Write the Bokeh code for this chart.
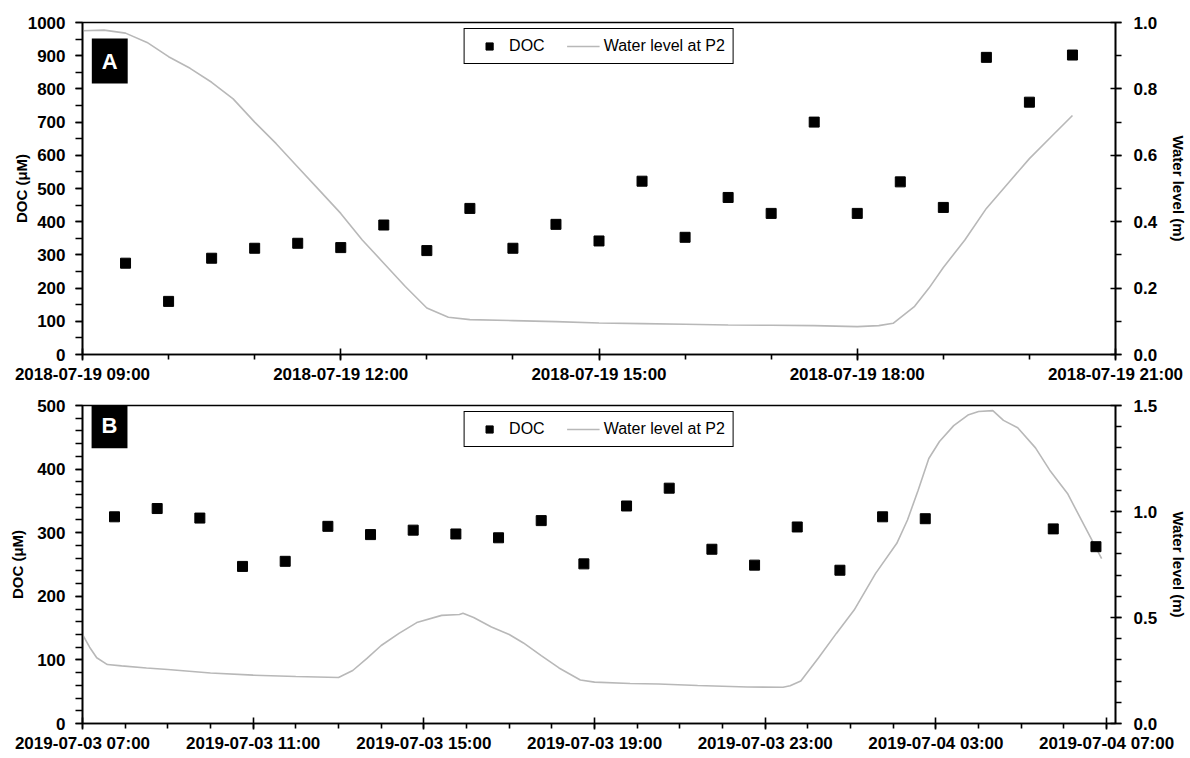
import pandas as pd
from bokeh.plotting import figure
from bokeh.models import (Range1d, LinearAxis, FixedTicker,
                          DatetimeTickFormatter, NumeralTickFormatter,
                          Legend, LegendItem, Label)
from bokeh.layouts import column
from bokeh.embed import file_html
from bokeh.resources import INLINE

# ---------------- Panel A data (2018-07-19) ----------------
doc_a_times = ["09:30", "10:00", "10:30", "11:00", "11:30", "12:00", "12:30", "13:00",
               "13:30", "14:00", "14:30", "15:00", "15:30", "16:00", "16:30", "17:00",
               "17:30", "18:00", "18:30", "19:00", "19:30", "20:00", "20:30"]
doc_a_values = [275, 160, 290, 320, 335, 322, 390, 313,
                440, 320, 392, 342, 522, 353, 473, 425,
                700, 425, 520, 443, 895, 760, 902]

wl_a_times = ["09:00", "09:15", "09:30", "09:45", "10:00", "10:15", "10:30", "10:45",
              "11:00", "11:15", "11:30", "11:45", "12:00", "12:15", "12:30", "12:45",
              "13:00", "13:15", "13:30", "14:00", "14:30", "15:00", "15:30", "16:00",
              "16:30", "17:00", "17:30", "18:00", "18:15", "18:25", "18:40", "18:50",
              "19:00", "19:15", "19:30", "19:45", "20:00", "20:15", "20:30"]
wl_a_values = [0.975, 0.977, 0.968, 0.940, 0.897, 0.862, 0.820, 0.770,
               0.700, 0.635, 0.565, 0.495, 0.425, 0.345, 0.275, 0.205,
               0.140, 0.112, 0.105, 0.102, 0.099, 0.095, 0.093, 0.091,
               0.089, 0.088, 0.087, 0.084, 0.087, 0.094, 0.145, 0.200,
               0.262, 0.345, 0.440, 0.515, 0.590, 0.655, 0.720]

# ---------------- Panel B data (2019-07-03 / 04) ----------------
doc_b_times = ["2019-07-03 07:45", "2019-07-03 08:45", "2019-07-03 09:45", "2019-07-03 10:45",
               "2019-07-03 11:45", "2019-07-03 12:45", "2019-07-03 13:45", "2019-07-03 14:45",
               "2019-07-03 15:45", "2019-07-03 16:45", "2019-07-03 17:45", "2019-07-03 18:45",
               "2019-07-03 19:45", "2019-07-03 20:45", "2019-07-03 21:45", "2019-07-03 22:45",
               "2019-07-03 23:45", "2019-07-04 00:45", "2019-07-04 01:45", "2019-07-04 02:45",
               "2019-07-04 05:45", "2019-07-04 06:45"]
doc_b_values = [325, 338, 323, 247, 255, 310, 297, 304,
                298, 292, 319, 251, 342, 370, 274, 249,
                309, 241, 325, 322, 306, 278]

wl_b_times = ["2019-07-03 07:00", "2019-07-03 07:10", "2019-07-03 07:20", "2019-07-03 07:35",
              "2019-07-03 07:55", "2019-07-03 08:30", "2019-07-03 09:00", "2019-07-03 10:00",
              "2019-07-03 11:00", "2019-07-03 12:00", "2019-07-03 13:00", "2019-07-03 13:20",
              "2019-07-03 13:40", "2019-07-03 14:00", "2019-07-03 14:25", "2019-07-03 14:50",
              "2019-07-03 15:25", "2019-07-03 15:50", "2019-07-03 15:55", "2019-07-03 16:10",
              "2019-07-03 16:35", "2019-07-03 17:00", "2019-07-03 17:20", "2019-07-03 17:45",
              "2019-07-03 18:10", "2019-07-03 18:40", "2019-07-03 19:00", "2019-07-03 19:50",
              "2019-07-03 20:30", "2019-07-03 21:25", "2019-07-03 22:35", "2019-07-03 23:25",
              "2019-07-03 23:35", "2019-07-03 23:50", "2019-07-04 00:15", "2019-07-04 00:40",
              "2019-07-04 01:05", "2019-07-04 01:35", "2019-07-04 02:05", "2019-07-04 02:20",
              "2019-07-04 02:35", "2019-07-04 02:50", "2019-07-04 03:05", "2019-07-04 03:25",
              "2019-07-04 03:45", "2019-07-04 04:00", "2019-07-04 04:20", "2019-07-04 04:35",
              "2019-07-04 04:55", "2019-07-04 05:20", "2019-07-04 05:40", "2019-07-04 06:05",
              "2019-07-04 06:30", "2019-07-04 06:53"]
wl_b_values = [0.420, 0.360, 0.310, 0.278,
               0.272, 0.262, 0.255, 0.238,
               0.228, 0.222, 0.217, 0.250,
               0.307, 0.368, 0.425, 0.476,
               0.510, 0.514, 0.520, 0.500,
               0.455, 0.420, 0.380, 0.320,
               0.262, 0.205, 0.195, 0.189,
               0.186, 0.179, 0.172, 0.171,
               0.178, 0.200, 0.310, 0.425,
               0.535, 0.707, 0.850, 0.960,
               1.100, 1.250, 1.330, 1.405,
               1.455, 1.472, 1.476, 1.430,
               1.395, 1.300, 1.195, 1.085,
               0.925, 0.778]

# axis tick values
a_left_major = [0, 100, 200, 300, 400, 500, 600, 700, 800, 900, 1000]
a_left_minor = [50 * k for k in range(21)]
a_right_major = [0.0, 0.2, 0.4, 0.6, 0.8, 1.0]
a_right_minor = [round(0.1 * k, 2) for k in range(11)]
b_left_major = [0, 100, 200, 300, 400, 500]
b_left_minor = [20 * k for k in range(26)]
b_right_major = [0.0, 0.5, 1.0, 1.5]
b_right_minor = [round(0.1 * k, 2) for k in range(16)]

legend_labels = ["DOC", "Water level at P2"]
left_label = "DOC (μM)"
right_label = "Water level (m)"

FONT = "Liberation Sans"
FMT = "%Y-%m-%d %H:%M"
LINE_COLOR = "#b8b8b8"


def ms(ts):
    return pd.Timestamp(ts).value / 1e6


def style_axis(ax, maj_in, maj_out, min_in, min_out, standoff, label_standoff):
    ax.axis_line_color = "black"
    ax.axis_line_width = 1.6
    ax.major_tick_line_color = "black"
    ax.major_tick_line_width = 1.6
    ax.minor_tick_line_color = "black"
    ax.minor_tick_line_width = 1.6
    ax.minor_tick_line_alpha = 1.0
    ax.major_tick_in = maj_in
    ax.major_tick_out = maj_out
    ax.minor_tick_in = min_in
    ax.minor_tick_out = min_out
    ax.major_label_text_font = FONT
    ax.major_label_text_font_size = "17px"
    ax.major_label_text_font_style = "bold"
    ax.major_label_text_color = "black"
    ax.major_label_standoff = standoff
    ax.axis_label_text_font = FONT
    ax.axis_label_text_font_size = "15px"
    ax.axis_label_text_font_style = "bold"
    ax.axis_label_text_color = "black"
    ax.axis_label_standoff = label_standoff


def make_panel(height, border_top, x_start, x_end, x_major, x_minor,
               y_max, y_major, y_minor, r_max, r_major, r_minor,
               doc_t, doc_v, wl_t, wl_v, tag, tag_x, tag_y, left_standoff):
    p = figure(width=1190, height=height, x_axis_type="datetime",
               x_range=Range1d(start=ms(x_start), end=ms(x_end)),
               y_range=Range1d(start=0, end=y_max),
               output_backend="svg", toolbar_location=None,
               min_border_left=82, min_border_right=68,
               min_border_top=border_top, min_border_bottom=32)
    p.xgrid.visible = False
    p.ygrid.visible = False
    p.outline_line_color = "black"
    p.outline_line_width = 1.6
    p.outline_line_alpha = 1.0
    p.background_fill_color = "white"
    p.border_fill_color = "white"

    p.extra_y_ranges = {"wl": Range1d(start=0, end=r_max)}

    ln = p.line(x=pd.to_datetime(wl_t), y=wl_v, y_range_name="wl",
                line_color=LINE_COLOR, line_width=1.6)
    sq = p.scatter(x=pd.to_datetime(doc_t), y=doc_v, marker="square", size=10,
                   fill_color="black", line_color="black")

    # x axis
    xa = p.xaxis[0]
    xa.ticker = FixedTicker(ticks=x_major, minor_ticks=x_minor)
    xa.formatter = DatetimeTickFormatter(**{k: FMT for k in [
        "microseconds", "milliseconds", "seconds", "minsec", "minutes",
        "hourmin", "hours", "days", "months", "years"]})
    style_axis(xa, 6, 6, 0, 5, 4, 0)

    # left y axis
    ya = p.yaxis[0]
    ya.ticker = FixedTicker(ticks=y_major, minor_ticks=y_minor)
    ya.axis_label = left_label
    style_axis(ya, 0, 7, 0, 7, 10, left_standoff)

    # right y axis
    ra = LinearAxis(y_range_name="wl", axis_label=right_label)
    ra.ticker = FixedTicker(ticks=r_major, minor_ticks=r_minor)
    ra.formatter = NumeralTickFormatter(format="0.0")
    style_axis(ra, 5, 6, 0, 6, 12, 10)
    p.add_layout(ra, "right")

    legend = Legend(items=[LegendItem(label=legend_labels[0], renderers=[sq]),
                           LegendItem(label=legend_labels[1], renderers=[ln])],
                    location="top_center", orientation="horizontal")
    legend.border_line_color = "black"
    legend.border_line_width = 1.5
    legend.border_line_alpha = 1.0
    legend.background_fill_color = "white"
    legend.background_fill_alpha = 1.0
    legend.label_text_font = FONT
    legend.label_text_font_size = "16px"
    legend.label_text_color = "black"
    legend.padding = 8
    legend.spacing = 22
    legend.glyph_width = 33
    legend.glyph_height = 18
    legend.label_standoff = 4
    legend.margin = 6
    p.add_layout(legend)

    lab = Label(x=ms(tag_x), y=tag_y, text=tag, text_font=FONT,
                text_font_size="22px", text_font_style="bold", text_color="white",
                text_align="center", text_baseline="middle",
                background_fill_color="black", background_fill_alpha=1.0,
                padding=10)
    p.add_layout(lab)
    return p


a_major = [ms(f"2018-07-19 {h:02d}:00") for h in range(9, 22, 3)]
a_minor = [ms(f"2018-07-19 {h:02d}:00") for h in range(9, 22)]
pA = make_panel(386, 22, "2018-07-19 09:00", "2018-07-19 21:00", a_major, a_minor,
                1000, a_left_major, a_left_minor, 1.0, a_right_major, a_right_minor,
                [f"2018-07-19 {t}" for t in doc_a_times], doc_a_values,
                [f"2018-07-19 {t}" for t in wl_a_times], wl_a_values,
                "A", "2018-07-19 09:19", 884, -5)

b_base = pd.Timestamp("2019-07-03 07:00")
b_major = [(b_base + pd.Timedelta(hours=4 * k)).value / 1e6 for k in range(7)]
b_minor = [(b_base + pd.Timedelta(hours=k)).value / 1e6 for k in range(25)]
pB = make_panel(369, 19, "2019-07-03 07:00", "2019-07-04 07:12:30", b_major, b_minor,
                500, b_left_major, b_left_minor, 1.5, b_right_major, b_right_minor,
                doc_b_times, doc_b_values, wl_b_times, wl_b_values,
                "B", "2019-07-03 07:38", 468, 8)

layout = column(pA, pB, spacing=0)
open("out.html", "w").write(file_html(layout, INLINE))
